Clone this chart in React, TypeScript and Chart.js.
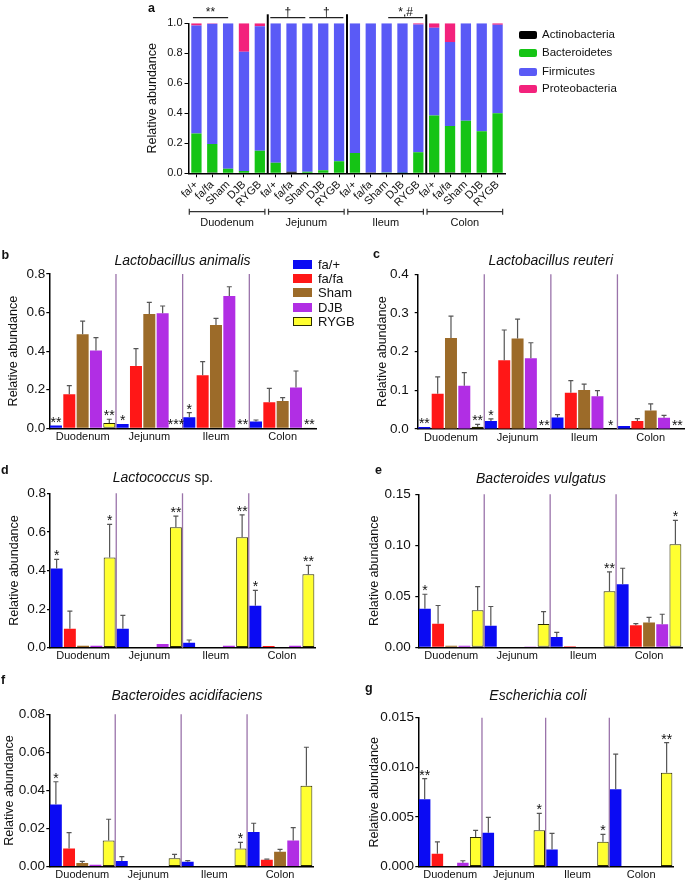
import React, { useEffect, useRef } from 'react';
import { Chart, registerables } from 'chart.js';
Chart.register(...registerables);

const FONT = '"Liberation Sans", Arial, Helvetica, sans-serif';

const regions = ['Duodenum', 'Jejunum', 'Ileum', 'Colon'];
const groups = ['fa/+', 'fa/fa', 'Sham', 'DJB', 'RYGB'];
const groupColors = ['#0b0bf3', '#ff1717', '#9c6b29', '#b12ee4', '#ffff30'];
const rygbBorder = '#2b2b00';

// ---------- Panel a: phylum composition (20 bars: region x group) ----------
const phyla = ['Actinobacteria', 'Bacteroidetes', 'Firmicutes', 'Proteobacteria'];
const phylaColors = ['#000000', '#15c415', '#5a5af6', '#f3227c'];
const actinobacteria = [0, 0.005, 0, 0, 0, 0, 0.01, 0, 0, 0, 0, 0.006, 0, 0, 0, 0.005, 0.005, 0, 0, 0];
const bacteroidetes = [0.265, 0.19, 0.03, 0.015, 0.15, 0.07, 0, 0.01, 0.02, 0.08, 0.135, 0, 0.005, 0.002, 0.14, 0.38, 0.31, 0.35, 0.28, 0.4];
const firmicutes = [0.72, 0.802, 0.97, 0.795, 0.83, 0.93, 0.99, 0.99, 0.98, 0.92, 0.865, 0.994, 0.995, 0.998, 0.852, 0.585, 0.56, 0.65, 0.72, 0.59];
const proteobacteria = [0.015, 0.003, 0, 0.19, 0.02, 0, 0, 0, 0, 0, 0, 0, 0, 0, 0.008, 0.03, 0.125, 0, 0, 0.01];
const phylumSeries = [actinobacteria, bacteroidetes, firmicutes, proteobacteria];
const phylumSig = [
  { from: 0.28, to: 2.5, text: '**' },
  { from: 5.16, to: 7.37, text: '†' },
  { from: 7.62, to: 9.77, text: '†' },
  { from: 12.6, to: 14.8, text: '*,#' },
];

// ---------- Panels b-g: mean [group][region] and SEM ----------
const animalisMean = [
  [0.014, 0.022, 0.057, 0.035],
  [0.176, 0.323, 0.275, 0.135],
  [0.487, 0.593, 0.535, 0.142],
  [0.403, 0.596, 0.686, 0.211],
  [0.028, 0.001, 0.001, 0.002],
];
const animalisSem = [
  [0, 0, 0.024, 0.008],
  [0.045, 0.09, 0.071, 0.072],
  [0.069, 0.06, 0.035, 0.017],
  [0.067, 0.038, 0.048, 0.086],
  [0.019, 0, 0, 0],
];
const animalisStars: [number, string][] = [[0, '**'], [4, '**'], [5, '*'], [9, '***'], [10, '*'], [14, '**'], [19, '**']];

const reuteriMean = [
  [0.005, 0.021, 0.03, 0.008],
  [0.091, 0.178, 0.094, 0.021],
  [0.235, 0.234, 0.101, 0.048],
  [0.112, 0.183, 0.085, 0.029],
  [0.006, 0, 0, 0],
];
const reuteriSem = [
  [0, 0.005, 0.007, 0],
  [0.044, 0.078, 0.031, 0.006],
  [0.057, 0.05, 0.015, 0.017],
  [0.034, 0.04, 0.014, 0.006],
  [0.006, 0, 0, 0],
];
const reuteriStars: [number, string][] = [[0, '**'], [4, '**'], [5, '*'], [9, '**'], [14, '*'], [19, '**']];

const lactococcusMean = [
  [0.411, 0.098, 0.026, 0.218],
  [0.098, 0, 0, 0.009],
  [0.01, 0, 0.003, 0.003],
  [0.01, 0.019, 0.01, 0.01],
  [0.468, 0.624, 0.572, 0.38],
];
const lactococcusSem = [
  [0.047, 0.07, 0.014, 0.079],
  [0.092, 0, 0, 0],
  [0, 0, 0, 0],
  [0, 0, 0, 0],
  [0.171, 0.058, 0.116, 0.047],
];
const lactococcusStars: [number, string][] = [[0, '*'], [4, '*'], [9, '**'], [14, '**'], [15, '*'], [19, '**']];

const vulgatusMean = [
  [0.0379, 0.0212, 0.01, 0.0618],
  [0.0232, 0, 0.001, 0.0216],
  [0.0016, 0, 0, 0.0242],
  [0.0016, 0.0007, 0, 0.0225],
  [0.0363, 0.0229, 0.0549, 0.101],
];
const vulgatusSem = [
  [0.0141, 0.0188, 0.0047, 0.0157],
  [0.0178, 0, 0, 0.0016],
  [0, 0, 0, 0.0052],
  [0, 0, 0, 0.0099],
  [0.0232, 0.0121, 0.0191, 0.0235],
];
const vulgatusStars: [number, string][] = [[0, '*'], [14, '**'], [19, '*']];

const acidifaciensMean = [
  [0.0327, 0.003, 0.0026, 0.0182],
  [0.0096, 0, 0, 0.0037],
  [0.0019, 0, 0, 0.0079],
  [0.001, 0, 0, 0.0137],
  [0.0137, 0.0044, 0.0096, 0.0425],
];
const acidifaciensSem = [
  [0.0119, 0.0023, 0.0006, 0.0046],
  [0.0083, 0, 0, 0.0003],
  [0.0009, 0, 0, 0.0012],
  [0, 0, 0, 0.0068],
  [0.0112, 0.0021, 0.0032, 0.0202],
];
const acidifaciensStars: [number, string][] = [[0, '*'], [14, '*']];

const coliMean = [
  [0.0068, 0.00342, 0.00174, 0.0078],
  [0.0013, 0, 0, 0],
  [0, 0, 0, 0],
  [0.0004, 0, 0, 0],
  [0.003, 0.00366, 0.0025, 0.00946],
];
const coliSem = [
  [0.00206, 0.00155, 0.00162, 0.00354],
  [0.0012, 0, 0, 0],
  [0, 0, 0, 0],
  [0.0002, 0, 0, 0],
  [0.00066, 0.00171, 0.00076, 0.00304],
];
const coliStars: [number, string][] = [[0, '**'], [9, '*'], [14, '*'], [19, '**']];

type Box = { x: number; y: number; w: number; h: number };
type Area = { l: number; t: number; r: number; b: number };
interface SpeciesPanel {
  box: Box; area: Area; yTitleX: number;
  yMax: number; yStep: number; decimals: number; tickPad: number;
  mean: number[][]; sem: number[][]; stars: [number, string][];
}

const speciesPanels: SpeciesPanel[] = [
  { box: { x: 0, y: 240, w: 340, h: 215 }, area: { l: 49.3, t: 274, r: 316, b: 428.3 }, yTitleX: 13.3,
    yMax: 0.8, yStep: 0.2, decimals: 1, tickPad: 1, mean: animalisMean, sem: animalisSem, stars: animalisStars },
  { box: { x: 340, y: 240, w: 345, h: 215 }, area: { l: 417.7, t: 274.3, r: 684, b: 429 }, yTitleX: 382.5,
    yMax: 0.4, yStep: 0.1, decimals: 1, tickPad: 6, mean: reuteriMean, sem: reuteriSem, stars: reuteriStars },
  { box: { x: 0, y: 455, w: 340, h: 215 }, area: { l: 50, t: 493.3, r: 315, b: 647.7 }, yTitleX: 15,
    yMax: 0.8, yStep: 0.2, decimals: 1, tickPad: 1, mean: lactococcusMean, sem: lactococcusSem, stars: lactococcusStars },
  { box: { x: 340, y: 455, w: 345, h: 215 }, area: { l: 418.3, t: 494.3, r: 682, b: 647.3 }, yTitleX: 375,
    yMax: 0.15, yStep: 0.05, decimals: 2, tickPad: 4.5, mean: vulgatusMean, sem: vulgatusSem, stars: vulgatusStars },
  { box: { x: 0, y: 665, w: 340, h: 219 }, area: { l: 49.3, t: 714.3, r: 313, b: 866.7 }, yTitleX: 10,
    yMax: 0.08, yStep: 0.02, decimals: 2, tickPad: 1.3, mean: acidifaciensMean, sem: acidifaciensSem, stars: acidifaciensStars },
  { box: { x: 340, y: 665, w: 345, h: 219 }, area: { l: 418.3, t: 717.7, r: 673, b: 866.7 }, yTitleX: 375,
    yMax: 0.015, yStep: 0.005, decimals: 3, tickPad: 1.3, mean: coliMean, sem: coliSem, stars: coliStars },
];

const phylumBox: Box = { x: 0, y: 0, w: 685, h: 240 };
const phylumArea: Area = { l: 188.5, t: 23.3, r: 505.5, b: 173.3 };

function speciesChart(canvas: HTMLCanvasElement, p: SpeciesPanel) {
  const xH = 17;
  const titleLH = 12.5 * 1.2;
  const padLeft = p.yTitleX - titleLH / 2 - p.box.x;
  const yWidth = p.area.l - p.box.x - padLeft;
  const padRight = p.box.x + p.box.w - p.area.r;
  const padTop = p.area.t - p.box.y;
  const padBottom = p.box.y + p.box.h - p.area.b - xH;
  const labels = regions.flatMap((r) => groups.map((g) => `${r} ${g}`));
  const datasets = groups.map((g, s) => ({
    label: g,
    data: labels.map((_, i) => (i % 5 === s ? p.mean[s][Math.floor(i / 5)] : null)),
    backgroundColor: groupColors[s],
    borderColor: s === 4 ? rygbBorder : groupColors[s],
    borderWidth: (c: any) => (s === 4 && c.raw > 0 ? 1 : 0),
    borderSkipped: false as any,
    barPercentage: 0.9,
    categoryPercentage: 1,
  }));
  const decor = {
    id: 'speciesDecor',
    beforeDatasetsDraw(chart: any) {
      const { ctx, chartArea, scales: { x } } = chart;
      const pitch = x.getPixelForValue(1) - x.getPixelForValue(0);
      ctx.save();
      ctx.strokeStyle = '#9a73aa';
      ctx.lineWidth = 1.3;
      for (let r = 1; r < regions.length; r++) {
        const px = x.getPixelForValue(r * 5) - pitch / 2;
        ctx.beginPath();
        ctx.moveTo(px, chartArea.top);
        ctx.lineTo(px, chartArea.bottom);
        ctx.stroke();
      }
      ctx.restore();
    },
    afterDatasetsDraw(chart: any) {
      const { ctx, scales: { x, y } } = chart;
      ctx.save();
      ctx.strokeStyle = '#555';
      ctx.lineWidth = 1.2;
      groups.forEach((_, s) =>
        regions.forEach((__, r) => {
          const m = p.mean[s][r];
          const e = p.sem[s][r];
          if (!e) return;
          const px = x.getPixelForValue(r * 5 + s);
          const y0 = y.getPixelForValue(m);
          const y1 = y.getPixelForValue(m + e);
          ctx.beginPath();
          ctx.moveTo(px, y0);
          ctx.lineTo(px, y1);
          ctx.moveTo(px - 2.5, y1);
          ctx.lineTo(px + 2.5, y1);
          ctx.stroke();
        })
      );
      ctx.fillStyle = '#111';
      ctx.font = `14px ${FONT}`;
      ctx.textAlign = 'center';
      ctx.textBaseline = 'alphabetic';
      p.stars.forEach(([i, t]) => {
        const s = i % 5;
        const r = Math.floor(i / 5);
        const top = y.getPixelForValue(p.mean[s][r] + p.sem[s][r]);
        ctx.fillText(t, x.getPixelForValue(i), top + 1);
      });
      ctx.restore();
    },
  };
  return new Chart(canvas, {
    type: 'bar',
    data: { labels, datasets: datasets as any },
    plugins: [decor],
    options: {
      animation: false,
      responsive: false,
      events: [],
      layout: { padding: { left: padLeft, right: padRight, top: padTop, bottom: padBottom } },
      plugins: { legend: { display: false }, tooltip: { enabled: false } },
      scales: {
        x: {
          stacked: true,
          grid: { display: false, drawTicks: false, tickLength: 0 },
          border: { display: true, color: '#000', width: 1.5 },
          ticks: {
            autoSkip: false, maxRotation: 0, minRotation: 0, padding: 2, color: '#111',
            font: { family: FONT, size: 11 },
            callback: (_v: any, i: number) => (i % 5 === 2 ? regions[Math.floor(i / 5)] : ''),
          },
          afterFit: (s: any) => { s.height = xH; },
        },
        y: {
          stacked: true, min: 0, max: p.yMax,
          ticks: {
            stepSize: p.yStep, padding: p.tickPad, color: '#111',
            font: { family: FONT, size: 13.5 },
            callback: (v: any) => Number(v).toFixed(p.decimals),
          },
          grid: { display: true, drawOnChartArea: false, drawTicks: true, tickLength: 3, color: '#000', lineWidth: 1.2 },
          border: { display: true, color: '#000', width: 1.5 },
          title: { display: true, text: 'Relative abundance', color: '#111', font: { family: FONT, size: 12.5 }, padding: 0 },
          afterFit: (s: any) => { s.width = yWidth; },
        },
      },
    } as any,
  });
}

function phylumChart(canvas: HTMLCanvasElement) {
  const box = phylumBox;
  const area = phylumArea;
  const xH = 40;
  const yTitleX = 152.5;
  const padLeft = yTitleX - 7.5 - box.x;
  const yWidth = area.l - box.x - padLeft;
  const labels = regions.flatMap((r) => groups.map((g) => `${r} ${g}`));
  const datasets = phyla.map((ph, k) => ({
    label: ph,
    data: phylumSeries[k],
    backgroundColor: phylaColors[k],
    borderWidth: 0,
    barPercentage: 0.65,
    categoryPercentage: 1,
  }));
  const decor = {
    id: 'phylumDecor',
    afterDatasetsDraw(chart: any) {
      const { ctx, chartArea: { top, bottom }, scales: { x } } = chart;
      const pitch = x.getPixelForValue(1) - x.getPixelForValue(0);
      const edge = (f: number) => x.getPixelForValue(0) - pitch / 2 + f * pitch;
      ctx.save();
      ctx.strokeStyle = '#000';
      ctx.lineWidth = 2;
      for (let r = 1; r < regions.length; r++) {
        const px = edge(r * 5);
        ctx.beginPath();
        ctx.moveTo(px, top - 9);
        ctx.lineTo(px, bottom);
        ctx.stroke();
      }
      ctx.lineWidth = 1.2;
      ctx.strokeStyle = '#222';
      ctx.fillStyle = '#111';
      ctx.font = `12px ${FONT}`;
      ctx.textAlign = 'center';
      ctx.textBaseline = 'alphabetic';
      const by = top - 5.6;
      phylumSig.forEach((s) => {
        const x0 = edge(s.from);
        const x1 = edge(s.to);
        ctx.beginPath();
        ctx.moveTo(x0, by);
        ctx.lineTo(x1, by);
        ctx.stroke();
        ctx.fillText(s.text, (x0 + x1) / 2, by - 2);
      });
      const ry = bottom + 38.4;
      ctx.strokeStyle = '#333';
      ctx.font = `11px ${FONT}`;
      regions.forEach((name, r) => {
        const x0 = edge(r * 5 + 0.05);
        const x1 = edge(r * 5 + 4.82);
        ctx.beginPath();
        ctx.moveTo(x0, ry);
        ctx.lineTo(x1, ry);
        ctx.moveTo(x0, ry - 3);
        ctx.lineTo(x0, ry + 3);
        ctx.moveTo(x1, ry - 3);
        ctx.lineTo(x1, ry + 3);
        ctx.stroke();
        ctx.fillText(name, (x0 + x1) / 2, bottom + 52.7);
      });
      ctx.restore();
    },
  };
  return new Chart(canvas, {
    type: 'bar',
    data: { labels, datasets: datasets as any },
    plugins: [decor],
    options: {
      animation: false,
      responsive: false,
      events: [],
      layout: {
        padding: { left: padLeft, right: box.x + box.w - area.r, top: area.t - box.y, bottom: box.y + box.h - area.b - xH },
      },
      plugins: { legend: { display: false }, tooltip: { enabled: false } },
      scales: {
        x: {
          stacked: true,
          grid: { display: true, drawOnChartArea: false, drawTicks: true, tickLength: 4, offset: false, color: '#000', lineWidth: 1 },
          border: { display: true, color: '#000', width: 1.5 },
          ticks: {
            autoSkip: false, maxRotation: 45, minRotation: 45, padding: 1, color: '#111',
            font: { family: FONT, size: 11 },
            callback: (_v: any, i: number) => groups[i % 5],
          },
          afterFit: (s: any) => { s.height = xH; },
        },
        y: {
          stacked: true, min: 0, max: 1,
          ticks: {
            stepSize: 0.2, padding: 2, color: '#111',
            font: { family: FONT, size: 11 },
            callback: (v: any) => Number(v).toFixed(1),
          },
          grid: { display: true, drawOnChartArea: false, drawTicks: true, tickLength: 4, color: '#000', lineWidth: 1 },
          border: { display: true, color: '#000', width: 1.5 },
          title: { display: true, text: 'Relative abundance', color: '#111', font: { family: FONT, size: 12.5 }, padding: 0 },
          afterFit: (s: any) => { s.width = yWidth; },
        },
      },
    } as any,
  });
}

function ChartCanvas({ box, make }: { box: Box; make: (c: HTMLCanvasElement) => Chart }) {
  const ref = useRef<HTMLCanvasElement>(null);
  useEffect(() => {
    const chart = make(ref.current as HTMLCanvasElement);
    return () => chart.destroy();
  }, []);
  return (
    <canvas
      ref={ref}
      width={box.w}
      height={box.h}
      style={{ position: 'absolute', left: box.x, top: box.y, width: box.w, height: box.h, display: 'block' }}
    />
  );
}

function T({ x, base, size, children, center = false, bold = false, italic = false }: any) {
  return (
    <div
      style={{
        position: 'absolute', left: x, top: base - 0.8465 * size, fontSize: size, lineHeight: `${size}px`,
        fontWeight: bold ? 700 : 400, fontStyle: italic ? 'italic' : 'normal', whiteSpace: 'nowrap',
        transform: center ? 'translateX(-50%)' : undefined, color: '#111', fontFamily: FONT,
      }}
    >
      {children}
    </div>
  );
}

const letters = [
  { t: 'a', x: 148, base: 13 },
  { t: 'b', x: 1.5, base: 259.5 },
  { t: 'c', x: 373, base: 258.5 },
  { t: 'd', x: 1, base: 474.3 },
  { t: 'e', x: 375, base: 474.3 },
  { t: 'f', x: 1, base: 684.3 },
  { t: 'g', x: 365, base: 693 },
];

export default function App() {
  return (
    <div style={{ position: 'absolute', left: 0, top: 0, width: 685, height: 884, background: '#fff', overflow: 'hidden', fontFamily: FONT }}>
      <ChartCanvas box={phylumBox} make={(c) => phylumChart(c)} />
      {speciesPanels.map((p, i) => (
        <ChartCanvas key={i} box={p.box} make={(c) => speciesChart(c, p)} />
      ))}

      {letters.map((l) => (
        <T key={l.t} x={l.x} base={l.base} size={12.5} bold>{l.t}</T>
      ))}

      <T x={182.5} base={265} size={14} center italic>Lactobacillus animalis</T>
      <T x={550.8} base={265} size={14} center italic>Lactobacillus reuteri</T>
      <T x={163} base={481.7} size={14} center><i>Lactococcus</i> sp.</T>
      <T x={541} base={482.5} size={14} center italic>Bacteroides vulgatus</T>
      <T x={187} base={700} size={14} center italic>Bacteroides acidifaciens</T>
      <T x={538} base={700} size={14} center italic>Escherichia coli</T>

      {phyla.map((ph, k) => {
        const cy = [35, 52.5, 71.5, 89][k];
        return (
          <React.Fragment key={ph}>
            <div style={{ position: 'absolute', left: 519, top: cy - 4, width: 18, height: 8, borderRadius: 2, background: phylaColors[k] }} />
            <T x={542} base={cy + 4.1} size={11.5}>{ph}</T>
          </React.Fragment>
        );
      })}

      {groups.map((g, s) => {
        const cy = 264.5 + s * 14.2;
        return (
          <React.Fragment key={g}>
            <div
              style={{
                position: 'absolute', left: 293, top: cy - 4.5, width: 19, height: 9, boxSizing: 'border-box',
                background: groupColors[s], border: s === 4 ? `1px solid ${rygbBorder}` : 'none',
              }}
            />
            <T x={318} base={cy + 4.6} size={13}>{g}</T>
          </React.Fragment>
        );
      })}
    </div>
  );
}
